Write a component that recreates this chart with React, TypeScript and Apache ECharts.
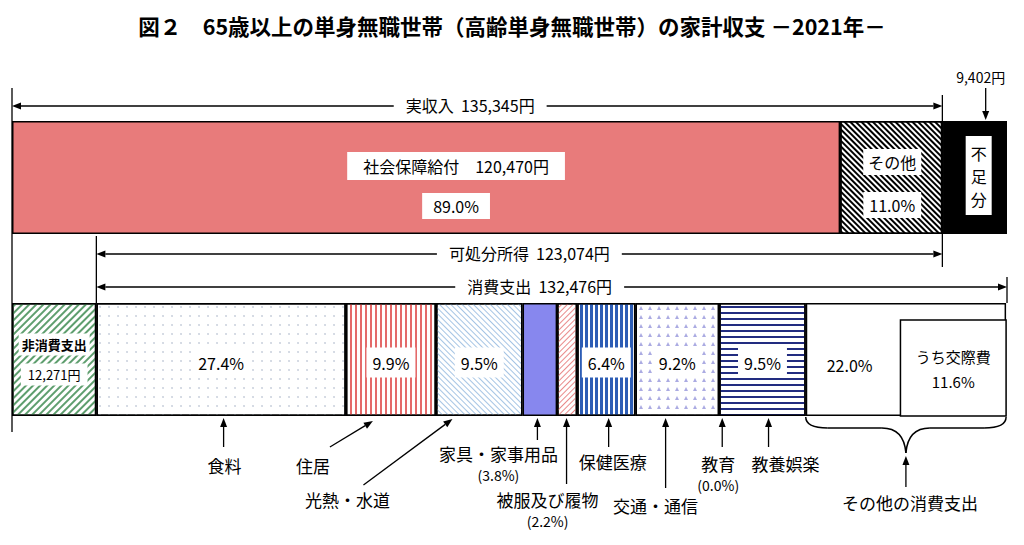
import React, { useEffect, useRef } from 'react';
import * as echarts from 'echarts';

const FONT = '"Noto Sans CJK JP", "Noto Sans", sans-serif';

// ---------- data ----------
const TITLE = '図２　65歳以上の単身無職世帯（高齢単身無職世帯）の家計収支 －2021年－';
const ROWS = ['収入', '支出'];

const incomeNames = ['社会保障給付', 'その他', '不足分'];
const incomeValues = [120470, 14875, 9402];
const incomePctLabels = ['89.0%', '11.0%', ''];

const actualIncome = 135345;
const disposableIncome = 123074;
const consumptionTotal = 132476;

const nonConsumptionName = '非消費支出';
const nonConsumptionValue = 12271;

const consumptionNames = ['食料', '住居', '光熱・水道', '家具・家事用品', '被服及び履物', '保健医療', '交通・通信', '教育', '教養娯楽', 'その他の消費支出'];
const consumptionPct = [27.4, 9.9, 9.5, 3.8, 2.2, 6.4, 9.2, 0.0, 9.5, 22.0];
const consumptionValues = [36298, 13115, 12585, 5034, 2915, 8478, 12188, 0, 12585, 29145];

const kosaihiName = 'うち交際費';
const kosaihiPct = 11.6;
const kosaihiValue = 15367;

// ---------- styles / layout ----------
const BAR_W = 113;
const fmt = (n: number) => n.toLocaleString('en-US');
const edge = { borderColor: '#000', borderWidth: 1.5 };
const box = { backgroundColor: '#fff', color: '#000', fontFamily: FONT, fontSize: 16 };

const vStripe = (color: string, on: number, off: number) => ({ symbol: 'rect', symbolSize: 1, color, dashArrayX: [on, off], dashArrayY: [1, 0], rotation: 0 });
const hStripe = (color: string, on: number, off: number, rotation = 0) => ({ symbol: 'rect', symbolSize: 1, color, dashArrayX: [1, 0], dashArrayY: [on, off], rotation });
const BACK = Math.PI / 4; // "\"
const FWD = -Math.PI / 4; // "/"

const consumptionStyles: any[] = [
  { color: '#fff', decal: { symbol: 'circle', symbolSize: 0.8, color: '#BFC7D6', dashArrayX: [2, 7], dashArrayY: [2, 7] } },
  { color: '#fff', decal: vStripe('#E46A6A', 2, 3) },
  { color: '#fff', decal: hStripe('#A5C4E4', 1, 3, BACK) },
  { color: '#8787EE' },
  { color: '#fff', decal: hStripe('#E98A8A', 1, 3, FWD) },
  { color: '#fff', decal: vStripe('#2D5DB5', 3, 2) },
  { color: '#fff', decal: { symbol: 'triangle', symbolSize: 1, color: '#ABABE2', dashArrayX: [4, 5], dashArrayY: [4, 5] } },
  { color: '#fff' },
  { color: '#fff', decal: hStripe('#222C80', 2, 4) },
  { color: '#fff' },
];
const showPctInBar = [true, true, true, false, false, true, true, false, true, true];

const annLayout: any[] = [
  { frac: 0.51, tipY: 418, tailDx: 0, tailY: 447, labelDx: 1, labelY: 465 },
  { frac: 0.30, tipY: 421, tailDx: -43, tailY: 447, labelDx: -60, labelY: 465 },
  { frac: 0.19, tipY: 419, tailDx: -89, tailY: 485, labelDx: -105, labelY: 499 },
  { frac: 0.43, tipY: 418, tailDx: 0, tailY: 440, labelDx: -39, labelY: 453, subY: 475 },
  { frac: 0.47, tipY: 418, tailDx: 0, tailY: 484, labelDx: -19, labelY: 499, subY: 521 },
  { frac: 0.54, tipY: 418, tailDx: 0, tailY: 447, labelDx: 4, labelY: 461 },
  { frac: 0.36, tipY: 418, tailDx: 0, tailY: 488, labelDx: -10, labelY: 505 },
  { frac: 0, tipDx: 3, tipY: 418, tailDx: 0, tailY: 447, labelDx: -4, labelY: 463, subY: 485 },
  { frac: 0.57, tipY: 418, tailDx: 0, tailY: 447, labelDx: 17, labelY: 463 },
  null,
];

function buildOption() {
  const total = incomeValues.reduce((a, b) => a + b, 0);
  const series: any[] = [];

  series.push({
    type: 'bar', stack: 't', barWidth: BAR_W, name: incomeNames[0], data: [incomeValues[0], '-'],
    itemStyle: { color: '#E87B7B', ...edge },
    label: {
      show: true, position: 'inside', offset: [30, 8],
      formatter: `{a|${incomeNames[0]}　${fmt(incomeValues[0])}円}\n{g|}\n{b|${incomePctLabels[0]}}`,
      rich: { a: { ...box, height: 28, padding: [0, 16] }, g: { height: 13 }, b: { ...box, height: 26, padding: [0, 11] } },
    },
  });
  series.push({
    type: 'bar', stack: 't', barWidth: BAR_W, name: incomeNames[1], data: [incomeValues[1], '-'],
    itemStyle: { color: '#fff', ...edge, decal: hStripe('#000', 2, 2, BACK) },
    label: {
      show: true, position: 'inside', offset: [1, 6],
      formatter: `{a|${incomeNames[1]}}\n{g|}\n{b|${incomePctLabels[1]}}`,
      rich: { a: { ...box, height: 26, padding: [0, 5] }, g: { height: 17 }, b: { ...box, height: 26, padding: [0, 6] } },
    },
  });
  series.push({
    type: 'bar', stack: 't', barWidth: BAR_W, name: incomeNames[2], data: [incomeValues[2], '-'],
    itemStyle: { color: '#000', ...edge },
    label: {
      show: true, position: 'inside', offset: [4, -2],
      formatter: incomeNames[2].split('').join('\n'),
      ...box, padding: [5, 5], lineHeight: 23,
    },
  });
  series.push({
    type: 'bar', stack: 't', barWidth: BAR_W, name: nonConsumptionName, data: ['-', nonConsumptionValue],
    itemStyle: { color: '#fff', ...edge, decal: hStripe('#5E9E6E', 2, 3, FWD) },
    label: {
      show: true, position: 'inside', offset: [0, 0],
      formatter: `{a|${nonConsumptionName}}\n{g|}\n{b|${fmt(nonConsumptionValue)}円}`,
      rich: {
        a: { ...box, fontSize: 13, fontWeight: 'bold', height: 22, padding: [0, 3] },
        g: { height: 8 },
        b: { ...box, fontSize: 13, height: 22, padding: [0, 7] },
      },
    },
  });
  consumptionNames.forEach((name, i) => {
    const st = consumptionStyles[i];
    const last = i === consumptionNames.length - 1;
    series.push({
      type: 'bar', stack: 't', barWidth: BAR_W, name, data: ['-', consumptionValues[i]],
      itemStyle: { color: st.color, ...edge, ...(st.decal ? { decal: st.decal } : {}) },
      label: last
        ? { show: true, position: 'insideLeft', distance: 21, offset: [0, 5], formatter: `${consumptionPct[i].toFixed(1)}%`, color: '#000', fontFamily: FONT, fontSize: 16 }
        : {
            show: showPctInBar[i], position: 'inside', offset: [0, 3],
            formatter: `${consumptionPct[i].toFixed(1)}%`, ...box, padding: [7, 6],
          },
    });
  });

  const bottomEnd = nonConsumptionValue + consumptionValues.reduce((a, b) => a + b, 0);
  series.push({
    type: 'custom', name: kosaihiName, z: 5,
    encode: { x: [0, 1], y: 2 },
    data: [[bottomEnd - kosaihiValue, bottomEnd, 1]],
    renderItem: (params: any, api: any) => {
      const s = api.coord([api.value(0), api.value(2)]);
      const e = api.coord([api.value(1), api.value(2)]);
      const bottom = s[1] + BAR_W / 2;
      const h = 96;
      return {
        type: 'group',
        children: [
          { type: 'rect', shape: { x: s[0], y: bottom - h, width: e[0] - s[0], height: h }, style: { fill: '#fff', stroke: '#000', lineWidth: 1.5 } },
          {
            type: 'text', x: (s[0] + e[0]) / 2, y: bottom - h / 2 + 1,
            style: { text: `${kosaihiName}\n${kosaihiPct.toFixed(1)}%`, fill: '#000', fontSize: 15, fontFamily: FONT, align: 'center', verticalAlign: 'middle', lineHeight: 25 },
          },
        ],
      };
    },
  });

  return {
    animation: false,
    backgroundColor: '#fff',
    title: { text: TITLE, left: 'center', top: 10, textStyle: { fontSize: 21.5, fontWeight: 'bold', fontFamily: FONT, color: '#000' } },
    grid: { left: 12, right: 17, top: 86.5, bottom: 94.5, containLabel: false },
    xAxis: { type: 'value', min: 0, max: total, show: false },
    yAxis: { type: 'category', data: ROWS, inverse: true, show: false },
    series,
  };
}

function buildGraphics(px: (v: number) => number) {
  const g: any[] = [];
  const Z = 20;
  const line = (x1: number, y1: number, x2: number, y2: number, w = 1.3) =>
    g.push({ type: 'line', z: Z, shape: { x1, y1, x2, y2 }, style: { stroke: '#000', lineWidth: w } });
  const arrowTo = (x1: number, y1: number, x2: number, y2: number) => {
    const a = Math.atan2(y2 - y1, x2 - x1);
    const L = 9, W = 3.5;
    const bx = x2 - L * Math.cos(a), by = y2 - L * Math.sin(a);
    line(x1, y1, bx, by);
    g.push({
      type: 'polygon', z: Z,
      shape: { points: [[x2, y2], [bx + W * Math.sin(a), by - W * Math.cos(a)], [bx - W * Math.sin(a), by + W * Math.cos(a)]] },
      style: { fill: '#000' },
    });
  };
  const text = (x: number, y: number, t: string, size = 17, extra: any = {}) =>
    g.push({ type: 'text', z: Z + 1, x, y, style: { text: t, fill: '#000', fontSize: size, fontFamily: FONT, align: 'center', verticalAlign: 'middle', ...extra } });
  const dimension = (x1: number, x2: number, y: number, label: string, dx = 0) => {
    const m = (x1 + x2) / 2;
    arrowTo(m, y, x1, y);
    arrowTo(m, y, x2, y);
    text(m + dx, y - 1, label, 16, { backgroundColor: '#fff', padding: [2, 12] });
  };

  const x0 = px(0);
  const xActual = px(actualIncome);
  const xDispStart = px(actualIncome - disposableIncome);
  const xConsStart = px(nonConsumptionValue);
  const xConsEnd = px(nonConsumptionValue + consumptionTotal);
  const shortStart = incomeValues[0] + incomeValues[1];
  const xShort = (px(shortStart) + px(shortStart + incomeValues[2])) / 2;

  // vertical guide lines
  line(x0, 88, x0, 432);
  line(xActual, 95, xActual, 267);
  line(xDispStart, 236, xDispStart, 303);
  line(xConsEnd, 277, xConsEnd, 303);

  dimension(x0, xActual, 106, `実収入  ${fmt(actualIncome)}円`, -7);
  dimension(xDispStart, xActual, 254, `可処分所得  ${fmt(disposableIncome)}円`, 10);
  dimension(xConsStart, xConsEnd, 287, `消費支出  ${fmt(consumptionTotal)}円`, -12);

  text(xShort + 6, 77, `${fmt(incomeValues[2])}円`, 14);
  arrowTo(xShort + 11, 88, xShort + 11, 120);

  // bottom annotations
  let acc = nonConsumptionValue;
  consumptionNames.forEach((name, i) => {
    const s = acc, v = consumptionValues[i];
    acc += v;
    const L = annLayout[i];
    const xs = px(s), xe = px(s + v);
    if (!L) {
      const x1 = xs, x2 = xe, xm = (xs + xe) / 2;
      const yT = 417, yH = 428, yP = 453;
      const bez = (a: number, b: number, c: number, d: number, cx: number, cy: number) =>
        g.push({ type: 'bezierCurve', z: Z, shape: { x1: a, y1: b, x2: c, y2: d, cpx1: cx, cpy1: cy }, style: { stroke: '#000', lineWidth: 1.5, fill: null } });
      bez(x1, yT, x1 + 22, yH, x1, yH);
      line(x1 + 22, yH, xm - 24, yH, 1.5);
      bez(xm - 24, yH, xm, yP, xm - 2, yH);
      bez(xm, yP, xm + 24, yH, xm + 2, yH);
      line(xm + 24, yH, x2 - 22, yH, 1.5);
      bez(x2 - 22, yH, x2, yT, x2, yH);
      arrowTo(xm, 487, xm, 456);
      text(xm + 4, 502, name, 17);
      return;
    }
    const tipX = xs + (xe - xs) * L.frac + (L.tipDx || 0);
    arrowTo(tipX + L.tailDx, L.tailY, tipX, L.tipY);
    text(tipX + L.labelDx, L.labelY, name, 17);
    if (L.subY) text(tipX + L.labelDx, L.subY, `(${consumptionPct[i].toFixed(1)}%)`, 14);
  });

  return g;
}

export default function App() {
  const ref = useRef<HTMLDivElement>(null);
  useEffect(() => {
    if (!ref.current) return;
    const chart = echarts.init(ref.current, null, { renderer: 'svg' });
    chart.setOption(buildOption() as any);
    const px = (v: number) => chart.convertToPixel({ xAxisIndex: 0 }, v) as number;
    chart.setOption({ graphic: buildGraphics(px) } as any);
    return () => chart.dispose();
  }, []);
  return <div ref={ref} style={{ position: 'fixed', left: 0, top: 0, width: 1024, height: 545, background: '#fff' }} />;
}
